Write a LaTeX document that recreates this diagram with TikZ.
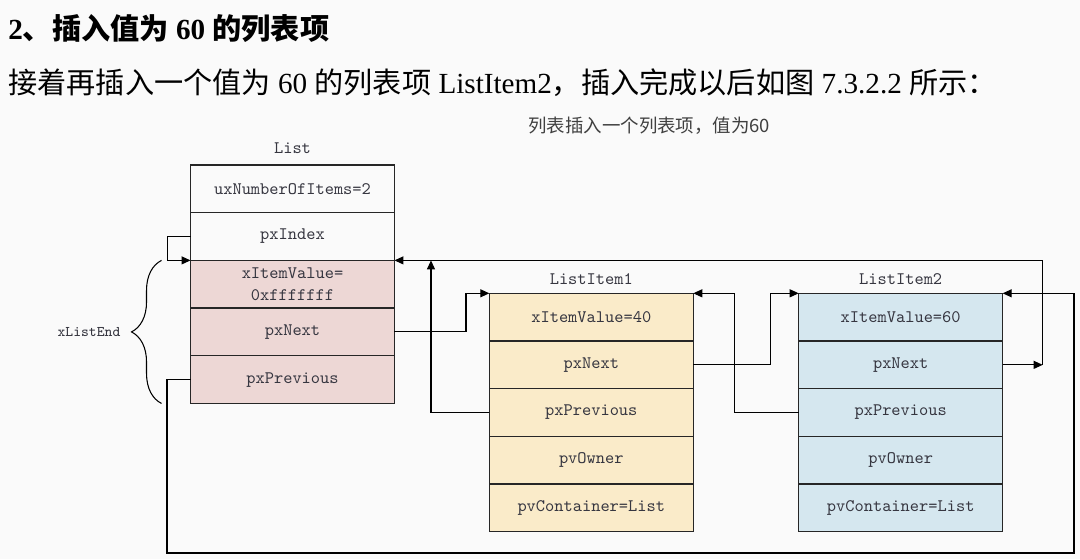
\documentclass[tikz,border=0pt]{standalone}
\usepackage{fontspec}
\setmainfont{Liberation Serif}
\newfontfamily\cjk{Noto Sans CJK SC}
\usetikzlibrary{positioning, arrows.meta, calc, decorations.pathreplacing}
\definecolor{listfill}{HTML}{EDD7D5}
\definecolor{itemone}{HTML}{FAEBC9}
\definecolor{itemtwo}{HTML}{D5E7EF}
\definecolor{pagebg}{HTML}{FAFAFA}
\definecolor{ink}{HTML}{363640}

\begin{document}
\begin{tikzpicture}[x=0.02cm, y=-0.02cm,
    node distance=0pt,
    cell/.style={draw=black!85, line width=0.8pt, minimum width=4.08cm,
      minimum height=0.954cm, inner sep=0pt, outer sep=0pt, align=center,
      font=\ttfamily\fontsize{10pt}{12pt}\selectfont, text=ink},
    tag/.style={inner sep=0pt, font=\ttfamily\fontsize{10pt}{12pt}\selectfont, text=ink},
    arr/.style={-{Triangle[length=1.8mm, width=1.6mm]}, line width=0.6pt}]
\fill[pagebg] (0,0) rectangle (1080,559);
\useasboundingbox (0,0) rectangle (1080,559);

% --- heading ---
\node[anchor=base west, inner sep=0pt, font=\fontsize{16.6pt}{20pt}\selectfont\bfseries](title) at (8,39)
  {2{\cjk\bfseries 、插入值为} 60 {\cjk\bfseries 的列表项}};
\node[anchor=base west, inner sep=0pt, font=\fontsize{16.6pt}{20pt}\selectfont](intro) at (8,93)
  {{\cjk 接着再插入一个值为} 60 {\cjk 的列表项} ListItem2{\cjk ，插入完成以后如图} 7.3.2.2 {\cjk 所示：}};
\node[anchor=base west, inner sep=0pt, font=\cjk\fontsize{10.5pt}{12pt}\selectfont, text=black!75](cap) at (528,132)
  {列表插入一个列表项，值为60};

% --- List ---
\node[cell, anchor=north](lnum) at (292.5,165) {uxNumberOfItems=2};
\node[cell, below=of lnum](lidx) {pxIndex};
\node[cell, fill=listfill, below=of lidx](lval) {xItemValue=\\0xfffffff};
\node[cell, fill=listfill, below=of lval](lnxt) {pxNext};
\node[cell, fill=listfill, below=of lnxt](lprv) {pxPrevious};
\node[tag, above=6.5pt of lnum](lname) {List};

\draw[decorate, decoration={brace, amplitude=0.6cm}, line width=0.6pt]
  ($(lprv.south west)+(-29,0)$) -- ($(lval.north west)+(-29,0)$);
\node[tag, font=\ttfamily\fontsize{8.4pt}{10pt}\selectfont](lend) at (89,332) {xListEnd};

% --- ListItem1 ---
\node[cell, fill=itemone, anchor=north](aval) at (591.3,293.3) {xItemValue=40};
\node[cell, fill=itemone, below=of aval](anxt) {pxNext};
\node[cell, fill=itemone, below=of anxt](aprv) {pxPrevious};
\node[cell, fill=itemone, below=of aprv](aown) {pvOwner};
\node[cell, fill=itemone, below=of aown](acon) {pvContainer=List};
\node[tag, above=5pt of aval](aname) {ListItem1};

% --- ListItem2 ---
\node[cell, fill=itemtwo, anchor=north](bval) at (900.7,293.3) {xItemValue=60};
\node[cell, fill=itemtwo, below=of bval](bnxt) {pxNext};
\node[cell, fill=itemtwo, below=of bnxt](bprv) {pxPrevious};
\node[cell, fill=itemtwo, below=of bprv](bown) {pvOwner};
\node[cell, fill=itemtwo, below=of bown](bcon) {pvContainer=List};
\node[tag, above=5pt of bval](bname) {ListItem2};

% --- links ---
\coordinate (loopL) at (167,553);
\coordinate (loopR) at (1074,553);
\coordinate (turn) at ($(bnxt.east)+(40,0)$);
\coordinate (up1) at ($(lval.north east)+(36.5,0)$);
\draw[arr] (lidx.west) -- ++(-23,0) |- (lval.north west);
\draw[arr] (lnxt.east) -- ++(71.5,0) |- (aval.north west);
\draw[arr] (lprv.west) -| (loopL) -- (loopR) |- (bval.north east);
\draw[arr] (anxt.east) -- ++(77,0) |- (bval.north west);
\draw[arr] (bprv.west) -- ++(-64,0) |- (aval.north east);
\draw[arr] (aprv.west) -| (up1);
\draw[arr] (bnxt.east) -- (turn);
\draw[arr] (turn) |- (lval.north east);
\end{tikzpicture}
\end{document}
